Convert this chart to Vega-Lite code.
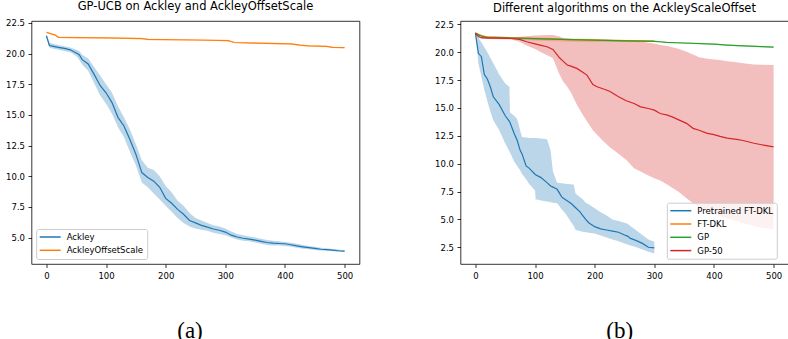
{
"$schema": "https://vega.github.io/schema/vega-lite/v6.json",
"padding": {"left": 4.5, "top": 0, "right": 0, "bottom": 0},
"spacing": 73,
"config": {
  "view": {"stroke": "#000", "strokeWidth": 0.8},
  "font": "DejaVu Sans",
  "axis": {"grid": false, "domain": false, "tickColor": "#000", "tickWidth": 0.8, "tickSize": 3.5, "labelFontSize": 8.5, "labelColor": "#000", "labelFont": "DejaVu Sans", "labelOverlap": false, "titleFont": "Liberation Serif", "titleFontSize": 23, "titleFontWeight": "normal", "titleColor": "#000"},
  "axisY": {"labelPadding": 3.5},
  "axisX": {"labelPadding": 3.5, "labelAngle": 0},
  "title": {"fontSize": 11.5, "fontWeight": "normal", "color": "#000", "font": "DejaVu Sans", "frame": "group", "offset": 6, "baseline": "alphabetic"},
  "legend": {"symbolType": "M-1.286,0H4.714", "symbolSize": 49, "symbolStrokeWidth": 1.5, "labelFontSize": 8.5, "labelFont": "DejaVu Sans", "labelColor": "#000", "labelOffset": 18, "padding": 3.5, "strokeColor": "#cccccc", "fillColor": "rgba(255,255,255,0.8)", "cornerRadius": 2, "rowPadding": 4.3}
},
"datasets": {
  "a": [
    {"s":"Ackley","x":0,"y":21.45,"hi":21.6,"lo":21.3},
    {"s":"Ackley","x":5,"y":20.65,"hi":20.9,"lo":20.5},
    {"s":"Ackley","x":10,"y":20.6,"hi":20.8,"lo":20.4},
    {"s":"Ackley","x":20,"y":20.5,"hi":20.7,"lo":20.3},
    {"s":"Ackley","x":30,"y":20.42,"hi":20.6,"lo":20.2},
    {"s":"Ackley","x":40,"y":20.3,"hi":20.5,"lo":20.1},
    {"s":"Ackley","x":50,"y":20.05,"hi":20.3,"lo":19.8},
    {"s":"Ackley","x":55,"y":19.9,"hi":20.2,"lo":19.5},
    {"s":"Ackley","x":60,"y":19.5,"hi":19.9,"lo":19.1},
    {"s":"Ackley","x":70,"y":19.15,"hi":19.6,"lo":18.6},
    {"s":"Ackley","x":80,"y":18.3,"hi":18.9,"lo":17.6},
    {"s":"Ackley","x":90,"y":17.4,"hi":18.2,"lo":16.6},
    {"s":"Ackley","x":100,"y":16.8,"hi":17.5,"lo":15.9},
    {"s":"Ackley","x":110,"y":16.0,"hi":16.8,"lo":15.1},
    {"s":"Ackley","x":120,"y":14.8,"hi":15.7,"lo":14.0},
    {"s":"Ackley","x":130,"y":14.1,"hi":14.8,"lo":13.2},
    {"s":"Ackley","x":140,"y":13.0,"hi":13.8,"lo":12.0},
    {"s":"Ackley","x":150,"y":11.8,"hi":12.6,"lo":10.9},
    {"s":"Ackley","x":160,"y":10.3,"hi":11.3,"lo":9.5},
    {"s":"Ackley","x":170,"y":9.9,"hi":10.7,"lo":9.1},
    {"s":"Ackley","x":180,"y":9.6,"hi":10.5,"lo":8.6},
    {"s":"Ackley","x":190,"y":9.1,"hi":10.0,"lo":8.1},
    {"s":"Ackley","x":200,"y":8.2,"hi":9.2,"lo":7.6},
    {"s":"Ackley","x":210,"y":7.8,"hi":8.7,"lo":7.1},
    {"s":"Ackley","x":220,"y":7.3,"hi":8.0,"lo":6.6},
    {"s":"Ackley","x":230,"y":6.9,"hi":7.6,"lo":6.2},
    {"s":"Ackley","x":240,"y":6.4,"hi":7.0,"lo":5.9},
    {"s":"Ackley","x":250,"y":6.2,"hi":6.6,"lo":5.75},
    {"s":"Ackley","x":260,"y":6.0,"hi":6.4,"lo":5.65},
    {"s":"Ackley","x":270,"y":5.85,"hi":6.2,"lo":5.55},
    {"s":"Ackley","x":280,"y":5.7,"hi":6.0,"lo":5.4},
    {"s":"Ackley","x":290,"y":5.6,"hi":5.9,"lo":5.3},
    {"s":"Ackley","x":300,"y":5.45,"hi":5.75,"lo":5.2},
    {"s":"Ackley","x":310,"y":5.2,"hi":5.5,"lo":5.0},
    {"s":"Ackley","x":320,"y":5.05,"hi":5.3,"lo":4.85},
    {"s":"Ackley","x":330,"y":4.95,"hi":5.2,"lo":4.75},
    {"s":"Ackley","x":340,"y":4.88,"hi":5.1,"lo":4.7},
    {"s":"Ackley","x":350,"y":4.8,"hi":5.0,"lo":4.6},
    {"s":"Ackley","x":360,"y":4.7,"hi":4.9,"lo":4.5},
    {"s":"Ackley","x":370,"y":4.6,"hi":4.8,"lo":4.4},
    {"s":"Ackley","x":380,"y":4.55,"hi":4.75,"lo":4.35},
    {"s":"Ackley","x":390,"y":4.52,"hi":4.7,"lo":4.35},
    {"s":"Ackley","x":400,"y":4.5,"hi":4.65,"lo":4.32},
    {"s":"Ackley","x":410,"y":4.42,"hi":4.58,"lo":4.25},
    {"s":"Ackley","x":420,"y":4.32,"hi":4.5,"lo":4.18},
    {"s":"Ackley","x":430,"y":4.25,"hi":4.4,"lo":4.1},
    {"s":"Ackley","x":440,"y":4.18,"hi":4.32,"lo":4.05},
    {"s":"Ackley","x":450,"y":4.12,"hi":4.25,"lo":4.0},
    {"s":"Ackley","x":460,"y":4.05,"hi":4.18,"lo":3.95},
    {"s":"Ackley","x":470,"y":4.02,"hi":4.13,"lo":3.92},
    {"s":"Ackley","x":480,"y":3.98,"hi":4.08,"lo":3.88},
    {"s":"Ackley","x":490,"y":3.93,"hi":4.03,"lo":3.84},
    {"s":"Ackley","x":500,"y":3.9,"hi":3.98,"lo":3.8},
    {"s":"AckleyOffsetScale","x":0,"y":21.73,"hi":21.79,"lo":21.67},
    {"s":"AckleyOffsetScale","x":8,"y":21.6,"hi":21.66,"lo":21.54},
    {"s":"AckleyOffsetScale","x":15,"y":21.5,"hi":21.56,"lo":21.44},
    {"s":"AckleyOffsetScale","x":20,"y":21.32,"hi":21.38,"lo":21.26},
    {"s":"AckleyOffsetScale","x":50,"y":21.3,"hi":21.36,"lo":21.24},
    {"s":"AckleyOffsetScale","x":100,"y":21.27,"hi":21.33,"lo":21.21},
    {"s":"AckleyOffsetScale","x":160,"y":21.22,"hi":21.28,"lo":21.16},
    {"s":"AckleyOffsetScale","x":170,"y":21.15,"hi":21.21,"lo":21.09},
    {"s":"AckleyOffsetScale","x":250,"y":21.1,"hi":21.16,"lo":21.04},
    {"s":"AckleyOffsetScale","x":305,"y":21.05,"hi":21.11,"lo":20.99},
    {"s":"AckleyOffsetScale","x":315,"y":20.9,"hi":20.96,"lo":20.84},
    {"s":"AckleyOffsetScale","x":350,"y":20.85,"hi":20.91,"lo":20.79},
    {"s":"AckleyOffsetScale","x":410,"y":20.78,"hi":20.84,"lo":20.72},
    {"s":"AckleyOffsetScale","x":425,"y":20.68,"hi":20.74,"lo":20.62},
    {"s":"AckleyOffsetScale","x":440,"y":20.63,"hi":20.69,"lo":20.57},
    {"s":"AckleyOffsetScale","x":470,"y":20.58,"hi":20.64,"lo":20.52},
    {"s":"AckleyOffsetScale","x":480,"y":20.5,"hi":20.56,"lo":20.44},
    {"s":"AckleyOffsetScale","x":500,"y":20.48,"hi":20.54,"lo":20.42}
  ],
  "b": [
    {"s":"Pretrained FT-DKL","x":0,"y":21.7,"hi":21.75,"lo":21.65},
    {"s":"Pretrained FT-DKL","x":5,"y":19.9,"hi":21.3,"lo":19.0},
    {"s":"Pretrained FT-DKL","x":10,"y":19.6,"hi":20.9,"lo":17.8},
    {"s":"Pretrained FT-DKL","x":15,"y":18.0,"hi":20.45,"lo":16.6},
    {"s":"Pretrained FT-DKL","x":20,"y":17.6,"hi":20.0,"lo":15.6},
    {"s":"Pretrained FT-DKL","x":25,"y":16.9,"hi":19.5,"lo":14.7},
    {"s":"Pretrained FT-DKL","x":30,"y":16.0,"hi":19.0,"lo":13.9},
    {"s":"Pretrained FT-DKL","x":40,"y":15.3,"hi":18.0,"lo":13.0},
    {"s":"Pretrained FT-DKL","x":50,"y":14.3,"hi":17.2,"lo":11.8},
    {"s":"Pretrained FT-DKL","x":57,"y":13.8,"hi":16.9,"lo":11.1},
    {"s":"Pretrained FT-DKL","x":58,"y":13.7,"hi":14.6,"lo":11.0},
    {"s":"Pretrained FT-DKL","x":65,"y":12.7,"hi":14.3,"lo":10.2},
    {"s":"Pretrained FT-DKL","x":70,"y":12.1,"hi":14.0,"lo":9.8},
    {"s":"Pretrained FT-DKL","x":75,"y":11.2,"hi":13.0,"lo":9.4},
    {"s":"Pretrained FT-DKL","x":78,"y":10.9,"hi":12.4,"lo":9.1},
    {"s":"Pretrained FT-DKL","x":85,"y":9.8,"hi":12.35,"lo":8.6},
    {"s":"Pretrained FT-DKL","x":90,"y":9.6,"hi":12.3,"lo":8.2},
    {"s":"Pretrained FT-DKL","x":100,"y":9.05,"hi":12.3,"lo":7.6},
    {"s":"Pretrained FT-DKL","x":101,"y":9.0,"hi":12.3,"lo":6.8},
    {"s":"Pretrained FT-DKL","x":110,"y":8.75,"hi":12.25,"lo":6.7},
    {"s":"Pretrained FT-DKL","x":120,"y":8.3,"hi":12.2,"lo":6.6},
    {"s":"Pretrained FT-DKL","x":126,"y":8.0,"hi":11.2,"lo":6.55},
    {"s":"Pretrained FT-DKL","x":130,"y":7.9,"hi":9.3,"lo":6.5},
    {"s":"Pretrained FT-DKL","x":137,"y":7.7,"hi":8.3,"lo":6.45},
    {"s":"Pretrained FT-DKL","x":145,"y":7.0,"hi":8.25,"lo":5.9},
    {"s":"Pretrained FT-DKL","x":150,"y":6.8,"hi":8.2,"lo":5.6},
    {"s":"Pretrained FT-DKL","x":160,"y":6.45,"hi":8.15,"lo":4.8},
    {"s":"Pretrained FT-DKL","x":165,"y":6.2,"hi":8.1,"lo":4.4},
    {"s":"Pretrained FT-DKL","x":168,"y":6.05,"hi":7.3,"lo":4.05},
    {"s":"Pretrained FT-DKL","x":175,"y":5.7,"hi":7.0,"lo":3.95},
    {"s":"Pretrained FT-DKL","x":180,"y":5.35,"hi":6.8,"lo":3.9},
    {"s":"Pretrained FT-DKL","x":185,"y":5.0,"hi":6.5,"lo":3.85},
    {"s":"Pretrained FT-DKL","x":190,"y":4.7,"hi":6.35,"lo":3.8},
    {"s":"Pretrained FT-DKL","x":200,"y":4.35,"hi":6.0,"lo":3.74},
    {"s":"Pretrained FT-DKL","x":210,"y":4.15,"hi":5.65,"lo":3.55},
    {"s":"Pretrained FT-DKL","x":220,"y":4.05,"hi":5.35,"lo":3.38},
    {"s":"Pretrained FT-DKL","x":230,"y":3.95,"hi":5.0,"lo":3.2},
    {"s":"Pretrained FT-DKL","x":240,"y":3.85,"hi":4.85,"lo":3.03},
    {"s":"Pretrained FT-DKL","x":250,"y":3.6,"hi":4.7,"lo":2.85},
    {"s":"Pretrained FT-DKL","x":255,"y":3.5,"hi":4.6,"lo":2.75},
    {"s":"Pretrained FT-DKL","x":260,"y":3.3,"hi":4.4,"lo":2.67},
    {"s":"Pretrained FT-DKL","x":270,"y":3.1,"hi":4.0,"lo":2.5},
    {"s":"Pretrained FT-DKL","x":280,"y":2.85,"hi":3.6,"lo":2.3},
    {"s":"Pretrained FT-DKL","x":290,"y":2.5,"hi":3.2,"lo":2.1},
    {"s":"Pretrained FT-DKL","x":300,"y":2.45,"hi":3.0,"lo":1.95},
    {"s":"FT-DKL","x":0,"y":21.72,"hi":21.78,"lo":21.66},
    {"s":"FT-DKL","x":5,"y":21.6,"hi":21.68,"lo":21.52},
    {"s":"FT-DKL","x":10,"y":21.5,"hi":21.58,"lo":21.42},
    {"s":"FT-DKL","x":15,"y":21.42,"hi":21.5,"lo":21.34},
    {"s":"FT-DKL","x":20,"y":21.38,"hi":21.46,"lo":21.3},
    {"s":"FT-DKL","x":50,"y":21.3,"hi":21.4,"lo":21.2},
    {"s":"FT-DKL","x":86,"y":21.24,"hi":21.34,"lo":21.08},
    {"s":"FT-DKL","x":150,"y":21.15,"hi":21.26,"lo":20.95},
    {"s":"FT-DKL","x":198,"y":21.09,"hi":21.2,"lo":20.92},
    {"s":"FT-DKL","x":250,"y":21.04,"hi":21.12,"lo":20.94},
    {"s":"FT-DKL","x":300,"y":21.0,"hi":21.07,"lo":20.93},
    {"s":"GP","x":0,"y":21.72,"hi":21.78,"lo":21.66},
    {"s":"GP","x":5,"y":21.55,"hi":21.61,"lo":21.49},
    {"s":"GP","x":10,"y":21.45,"hi":21.51,"lo":21.39},
    {"s":"GP","x":20,"y":21.32,"hi":21.38,"lo":21.26},
    {"s":"GP","x":50,"y":21.28,"hi":21.34,"lo":21.22},
    {"s":"GP","x":100,"y":21.22,"hi":21.28,"lo":21.16},
    {"s":"GP","x":143,"y":21.15,"hi":21.21,"lo":21.09},
    {"s":"GP","x":200,"y":21.08,"hi":21.14,"lo":21.02},
    {"s":"GP","x":250,"y":21.02,"hi":21.08,"lo":20.96},
    {"s":"GP","x":300,"y":20.97,"hi":21.03,"lo":20.91},
    {"s":"GP","x":310,"y":20.94,"hi":21.0,"lo":20.88},
    {"s":"GP","x":320,"y":20.88,"hi":20.94,"lo":20.82},
    {"s":"GP","x":338,"y":20.85,"hi":20.91,"lo":20.79},
    {"s":"GP","x":400,"y":20.72,"hi":20.78,"lo":20.66},
    {"s":"GP","x":422,"y":20.64,"hi":20.7,"lo":20.58},
    {"s":"GP","x":450,"y":20.57,"hi":20.63,"lo":20.51},
    {"s":"GP","x":480,"y":20.5,"hi":20.56,"lo":20.44},
    {"s":"GP","x":500,"y":20.46,"hi":20.52,"lo":20.4},
    {"s":"GP-50","x":0,"y":21.7,"hi":21.75,"lo":21.65},
    {"s":"GP-50","x":5,"y":21.4,"hi":21.5,"lo":21.3},
    {"s":"GP-50","x":10,"y":21.3,"hi":21.38,"lo":21.2},
    {"s":"GP-50","x":20,"y":21.27,"hi":21.36,"lo":21.18},
    {"s":"GP-50","x":40,"y":21.26,"hi":21.35,"lo":21.16},
    {"s":"GP-50","x":60,"y":21.23,"hi":21.35,"lo":21.15},
    {"s":"GP-50","x":74,"y":21.15,"hi":21.38,"lo":20.94},
    {"s":"GP-50","x":86,"y":20.94,"hi":21.44,"lo":20.6},
    {"s":"GP-50","x":100,"y":20.75,"hi":21.5,"lo":20.28},
    {"s":"GP-50","x":110,"y":20.62,"hi":21.52,"lo":20.0},
    {"s":"GP-50","x":120,"y":20.49,"hi":21.54,"lo":19.75},
    {"s":"GP-50","x":130,"y":20.25,"hi":21.55,"lo":19.45},
    {"s":"GP-50","x":141,"y":19.5,"hi":21.4,"lo":18.0},
    {"s":"GP-50","x":147,"y":19.2,"hi":21.25,"lo":17.4},
    {"s":"GP-50","x":154,"y":18.85,"hi":21.15,"lo":16.9},
    {"s":"GP-50","x":160,"y":18.75,"hi":21.1,"lo":16.4},
    {"s":"GP-50","x":170,"y":18.55,"hi":21.08,"lo":15.3},
    {"s":"GP-50","x":180,"y":18.2,"hi":21.07,"lo":14.4},
    {"s":"GP-50","x":187,"y":17.95,"hi":21.06,"lo":13.8},
    {"s":"GP-50","x":197,"y":17.1,"hi":21.05,"lo":13.0},
    {"s":"GP-50","x":204,"y":16.9,"hi":21.05,"lo":12.6},
    {"s":"GP-50","x":215,"y":16.7,"hi":21.04,"lo":12.0},
    {"s":"GP-50","x":225,"y":16.5,"hi":21.03,"lo":11.5},
    {"s":"GP-50","x":240,"y":16.0,"hi":21.02,"lo":10.9},
    {"s":"GP-50","x":253,"y":15.65,"hi":21.01,"lo":10.33},
    {"s":"GP-50","x":266,"y":15.4,"hi":21.0,"lo":9.6},
    {"s":"GP-50","x":277,"y":15.1,"hi":20.95,"lo":9.3},
    {"s":"GP-50","x":290,"y":14.95,"hi":20.85,"lo":8.95},
    {"s":"GP-50","x":300,"y":14.8,"hi":20.78,"lo":8.7},
    {"s":"GP-50","x":310,"y":14.5,"hi":20.65,"lo":8.5},
    {"s":"GP-50","x":322,"y":14.36,"hi":20.55,"lo":8.1},
    {"s":"GP-50","x":330,"y":14.2,"hi":20.45,"lo":7.85},
    {"s":"GP-50","x":340,"y":13.95,"hi":20.3,"lo":7.5},
    {"s":"GP-50","x":354,"y":13.62,"hi":20.05,"lo":6.9},
    {"s":"GP-50","x":365,"y":13.17,"hi":19.8,"lo":6.45},
    {"s":"GP-50","x":375,"y":13.0,"hi":19.55,"lo":6.1},
    {"s":"GP-50","x":389,"y":12.72,"hi":19.42,"lo":5.65},
    {"s":"GP-50","x":400,"y":12.6,"hi":19.35,"lo":5.45},
    {"s":"GP-50","x":410,"y":12.45,"hi":19.3,"lo":5.3},
    {"s":"GP-50","x":422,"y":12.3,"hi":19.2,"lo":5.1},
    {"s":"GP-50","x":438,"y":12.18,"hi":19.1,"lo":4.85},
    {"s":"GP-50","x":449,"y":12.08,"hi":19.0,"lo":4.65},
    {"s":"GP-50","x":467,"y":11.83,"hi":18.9,"lo":4.4},
    {"s":"GP-50","x":480,"y":11.7,"hi":18.88,"lo":4.25},
    {"s":"GP-50","x":500,"y":11.5,"hi":18.85,"lo":4.1}
  ]
},
"hconcat": [
  {
    "width": 328, "height": 243,
    "title": "GP-UCB on Ackley and AckleyOffsetScale",
    "data": {"name": "a"},
    "encoding": {
      "x": {"field": "x", "type": "quantitative", "scale": {"domain": [-25, 525], "nice": false, "zero": false},
            "axis": {"values": [0,100,200,300,400,500], "title": "(a)", "titleX": 158, "titleY": 73.3, "titleBaseline": "alphabetic", "titleAlign": "center"}}
    },
    "layer": [
      {"mark": {"type": "area", "opacity": 0.3},
       "encoding": {
         "y": {"field": "lo", "type": "quantitative", "scale": {"domain": [2.85, 22.65], "nice": false, "zero": false}, "axis": {"values": [5,7.5,10,12.5,15,17.5,20,22.5], "format": ".1f", "title": null}},
         "y2": {"field": "hi"},
         "fill": {"field": "s", "type": "nominal", "scale": {"domain": ["AckleyOffsetScale","Ackley"], "range": ["#ff7f0e","#1f77b4"]}, "legend": null}
       }},
      {"mark": {"type": "line", "strokeWidth": 1.2},
       "encoding": {
         "y": {"field": "y", "type": "quantitative", "axis": {"values": [5,7.5,10,12.5,15,17.5,20,22.5], "format": ".1f", "title": null}},
         "color": {"field": "s", "type": "nominal", "scale": {"domain": ["Ackley","AckleyOffsetScale"], "range": ["#1f77b4","#ff7f0e"]}, "legend": {"title": null, "orient": "none", "legendX": 4.7, "legendY": 208}}
       }}
    ]
  },
  {
    "width": 328, "height": 243,
    "title": "Different algorithms on the AckleyScaleOffset",
    "data": {"name": "b"},
    "encoding": {
      "x": {"field": "x", "type": "quantitative", "scale": {"domain": [-25, 525], "nice": false, "zero": false},
            "axis": {"values": [0,100,200,300,400,500], "title": "(b)", "titleX": 158.7, "titleY": 73.3, "titleBaseline": "alphabetic", "titleAlign": "center"}}
    },
    "layer": [
      {"mark": {"type": "area", "opacity": 0.3},
       "encoding": {
         "y": {"field": "lo", "type": "quantitative", "scale": {"domain": [1.0, 22.8], "nice": false, "zero": false}, "axis": {"values": [2.5,5,7.5,10,12.5,15,17.5,20,22.5], "format": ".1f", "title": null}},
         "y2": {"field": "hi"},
         "fill": {"field": "s", "type": "nominal", "scale": {"domain": ["GP-50","GP","FT-DKL","Pretrained FT-DKL"], "range": ["#d62728","#2ca02c","#ff7f0e","#1f77b4"]}, "legend": null}
       }},
      {"mark": {"type": "line", "strokeWidth": 1.2},
       "encoding": {
         "y": {"field": "y", "type": "quantitative", "axis": {"values": [2.5,5,7.5,10,12.5,15,17.5,20,22.5], "format": ".1f", "title": null}},
         "color": {"field": "s", "type": "nominal", "scale": {"domain": ["Pretrained FT-DKL","FT-DKL","GP","GP-50"], "range": ["#1f77b4","#ff7f0e","#2ca02c","#d62728"]}, "legend": {"title": null, "orient": "none", "legendX": 206.3, "legendY": 181.7}}
       }}
    ]
  }
],
"resolve": {"scale": {"color": "independent", "fill": "independent", "x": "independent", "y": "independent"}, "legend": {"color": "independent", "fill": "independent"}}
}
